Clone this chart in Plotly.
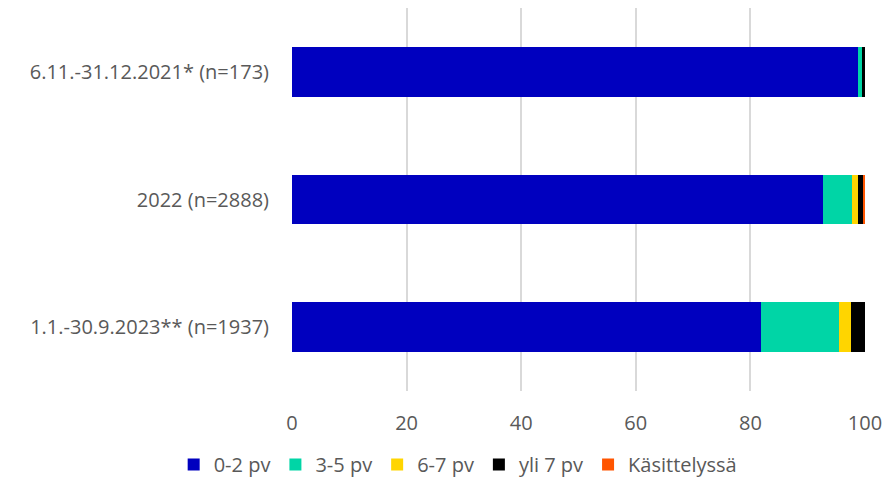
import plotly.graph_objects as go

categories = ["6.11.-31.12.2021* (n=173)", "2022 (n=2888)", "1.1.-30.9.2023** (n=1937)"]
series_names = ["0-2 pv", "3-5 pv", "6-7 pv", "yli 7 pv", "Käsittelyssä"]
v_0_2 = [98.8, 92.7, 81.8]
v_3_5 = [0.6, 5.1, 13.7]
v_6_7 = [0.0, 0.9, 2.1]
v_yli7 = [0.6, 1.1, 2.4]
v_kas = [0.0, 0.2, 0.0]
values = [v_0_2, v_3_5, v_6_7, v_yli7, v_kas]
colors = ["#0000BF", "#00D5A6", "#FFD500", "#000000", "#FF5500"]
x_ticks = [0, 20, 40, 60, 80, 100]

fig = go.Figure()
for name, vals, col in zip(series_names, values, colors):
    fig.add_trace(go.Bar(
        y=categories, x=vals, name=name, orientation="h",
        marker=dict(color=col, line=dict(width=0)),
        width=0.39,
    ))

font = dict(family="Open Sans, Liberation Sans, sans-serif", size=20, color="#595959")
fig.update_layout(
    barmode="stack",
    width=885, height=489,
    margin=dict(l=292, r=20, t=8, b=98, autoexpand=False),
    plot_bgcolor="white", paper_bgcolor="white",
    font=font,
    xaxis=dict(range=[0, 100], tickvals=x_ticks, showgrid=True, gridcolor="#D9D9D9",
               gridwidth=1.5, zeroline=False, showline=False, ticks="", tickfont=font,
               ticklabelstandoff=18, automargin=False),
    yaxis=dict(autorange="reversed", showgrid=False, ticks="", ticklabelstandoff=22,
               tickfont=font, automargin=False),
    legend=dict(orientation="h", x=0.29, xanchor="center", yref="container",
                y=0.05, yanchor="middle", font=font, itemwidth=30, traceorder="normal"),
    showlegend=True,
)
fig.write_html("out.html", config={"displayModeBar": False},
               post_script="document.body.style.margin='0';")
